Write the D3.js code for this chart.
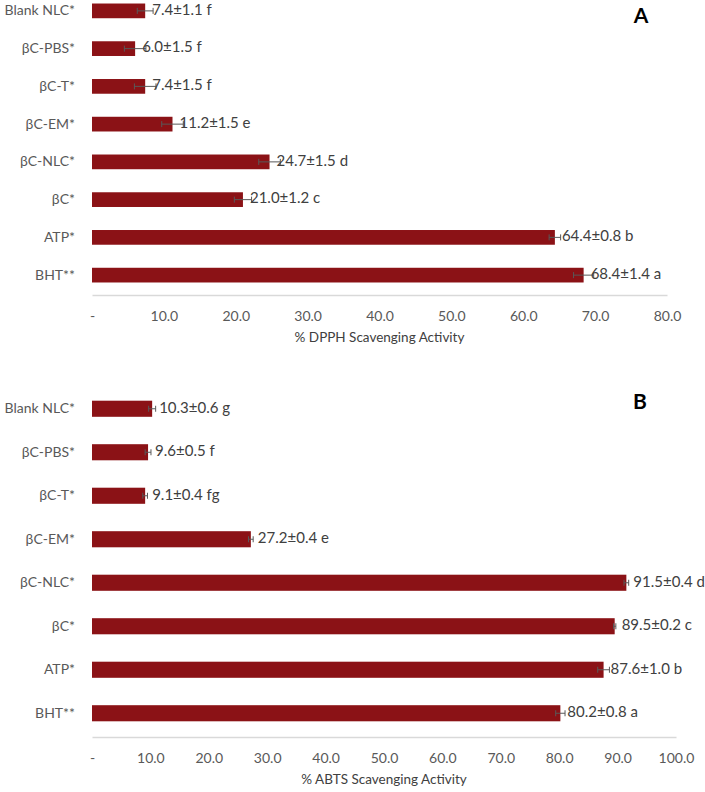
<!DOCTYPE html>
<html>
<head>
<meta charset="utf-8">
<script src="https://cdn.jsdelivr.net/npm/d3@7"></script>
<style>
  body { margin: 0; background: #fff; }
  text { font-family: Lato, "Open Sans", sans-serif; }
</style>
</head>
<body>
<div id="chart"></div>
<script>
// categories (top to bottom)
const categories = ["Blank NLC*", "βC-PBS*", "βC-T*", "βC-EM*", "βC-NLC*", "βC*", "ATP*", "BHT**"];

// panel A - DPPH
const dpphValues = [7.4, 6.0, 7.4, 11.2, 24.7, 21.0, 64.4, 68.4];
const dpphErrors = [1.1, 1.5, 1.5, 1.5, 1.5, 1.2, 0.8, 1.4];
const dpphLetters = ["f", "f", "f", "e", "d", "c", "b", "a"];
const dpphTicks = [0, 10, 20, 30, 40, 50, 60, 70, 80];

// panel B - ABTS
const abtsValues = [10.3, 9.6, 9.1, 27.2, 91.5, 89.5, 87.6, 80.2];
const abtsErrors = [0.6, 0.5, 0.4, 0.4, 0.4, 0.2, 1.0, 0.8];
const abtsLetters = ["g", "f", "fg", "e", "d", "c", "b", "a"];
const abtsTicks = [0, 10, 20, 30, 40, 50, 60, 70, 80, 90, 100];

const W = 705, H = 792;
const svg = d3.select("#chart").append("svg").attr("width", W).attr("height", H);

const drawPanel = (opts) => {
    const data = categories.map((c, i) => ({
        name: c, value: opts.values[i], err: opts.errors[i], letter: opts.letters[i]
    }));

    const x = d3.scaleLinear()
        .domain([0, d3.max(opts.ticks)])
        .range([opts.x0, opts.x1]);

    const y = d3.scaleBand()
        .domain(categories)
        .range([opts.y0, opts.y1])
        .paddingInner(opts.pad)
        .paddingOuter(opts.pad / 2);

    const g = svg.append("g");

    // x axis
    const xAxis = d3.axisBottom(x)
        .tickValues(opts.ticks)
        .tickSize(0)
        .tickPadding(16)
        .tickFormat(d => d === 0 ? "-" : d.toFixed(1));

    const xg = g.append("g")
        .attr("transform", `translate(0, ${opts.axisY})`)
        .call(xAxis);
    xg.select(".domain").attr("stroke", "#d9d9d9").attr("stroke-width", 1.5);
    xg.selectAll("text").attr("fill", "#595959").attr("font-size", 14);

    g.append("text")
        .attr("x", (opts.x0 + opts.x1) / 2)
        .attr("y", opts.axisY + 44)
        .attr("text-anchor", "middle")
        .attr("dominant-baseline", "middle")
        .attr("fill", "#404040")
        .attr("font-size", 13.5)
        .text(opts.title);

    // y axis
    const yg = g.append("g")
        .attr("transform", `translate(${opts.x0}, 0)`)
        .call(d3.axisLeft(y).tickSize(0).tickPadding(17));
    yg.select(".domain").remove();
    yg.selectAll("text").attr("fill", "#595959").attr("font-size", 14);

    // bars
    g.selectAll("rect.bar").data(data)
        .enter().append("rect")
        .attr("class", "bar")
        .attr("x", x(0))
        .attr("y", d => y(d.name))
        .attr("width", d => x(d.value) - x(0))
        .attr("height", y.bandwidth())
        .attr("fill", "#8b1216");

    // error bars
    const eb = g.selectAll("g.err").data(data)
        .enter().append("g")
        .attr("class", "err")
        .attr("stroke", "#595959")
        .attr("stroke-width", 1);
    eb.append("line")
        .attr("x1", d => x(d.value - d.err))
        .attr("x2", d => x(d.value + d.err))
        .attr("y1", d => y(d.name) + y.bandwidth() / 2)
        .attr("y2", d => y(d.name) + y.bandwidth() / 2);
    eb.append("line")
        .attr("x1", d => x(d.value + d.err))
        .attr("x2", d => x(d.value + d.err))
        .attr("y1", d => y(d.name) + y.bandwidth() / 2 - 3)
        .attr("y2", d => y(d.name) + y.bandwidth() / 2 + 3);
    eb.append("line")
        .attr("x1", d => x(d.value - d.err))
        .attr("x2", d => x(d.value - d.err))
        .attr("y1", d => y(d.name) + y.bandwidth() / 2 - 3)
        .attr("y2", d => y(d.name) + y.bandwidth() / 2 + 3);

    // value labels
    g.selectAll("text.val").data(data)
        .enter().append("text")
        .attr("class", "val")
        .attr("x", d => x(d.value) + 7)
        .attr("y", d => y(d.name) + y.bandwidth() / 2)
        .attr("dominant-baseline", "middle")
        .attr("fill", "#404040")
        .attr("font-size", 15)
        .text(d => `${d.value.toFixed(1)}±${d.err.toFixed(1)} ${d.letter}`);

    // panel letter
    g.append("text")
        .attr("x", opts.letterX)
        .attr("y", opts.letterY)
        .attr("text-anchor", "middle")
        .attr("font-family", "'Liberation Sans', Arial, sans-serif")
        .attr("font-weight", "bold")
        .attr("font-size", 21)
        .attr("fill", "#000")
        .text(opts.letter);
};

drawPanel({
    values: dpphValues, errors: dpphErrors, letters: dpphLetters, ticks: dpphTicks,
    x0: 92, x1: 667, y0: -8, y1: 294, pad: 0.61, axisY: 295,
    title: "% DPPH Scavenging Activity", letter: "A", letterX: 641, letterY: 23
});

drawPanel({
    values: abtsValues, errors: abtsErrors, letters: abtsLetters, ticks: abtsTicks,
    x0: 92, x1: 676, y0: 387, y1: 735, pad: 0.63, axisY: 737,
    title: "% ABTS Scavenging Activity", letter: "B", letterX: 640, letterY: 409
});
</script>
</body>
</html>
